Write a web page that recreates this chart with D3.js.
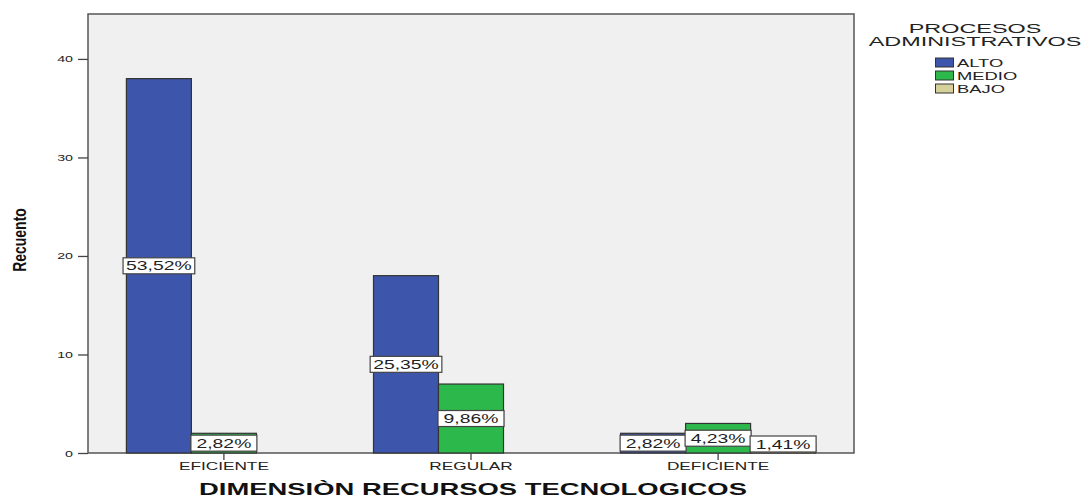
<!DOCTYPE html>
<html><head><meta charset="utf-8">
<script src="https://cdn.jsdelivr.net/npm/d3@7"></script>
<style>body{margin:0;background:#fff}svg{display:block}</style>
</head><body>
<svg id="c" width="1088" height="498"></svg>
<script>
const categories = ["EFICIENTE", "REGULAR", "DEFICIENTE"];
const seriesNames = ["ALTO", "MEDIO", "BAJO"];
const alto = [38, 18, 2];
const medio = [2, 7, 3];
const bajo = [0, 0, 1];
const pctLabels = {
  ALTO: ["53,52%", "25,35%", "2,82%"],
  MEDIO: ["2,82%", "9,86%", "4,23%"],
  BAJO: ["", "", "1,41%"]
};
const yTicks = [0, 10, 20, 30, 40];
const colors = ["#3d56ab", "#2db84b", "#d6d19a"];

const svg = d3.select("#c");
const L = 88, R = 854, T = 14, B = 453;
const font = "'Liberation Sans', Arial, sans-serif";

function stext(g, x, y, str, size, sx, anchor, weight) {
  return g.append("text")
    .attr("transform", `translate(${x},${y}) scale(${sx},1)`)
    .attr("text-anchor", anchor || "start")
    .attr("font-family", font).attr("font-size", size)
    .attr("font-weight", weight || "normal").attr("fill", "#222")
    .text(str);
}

const x = d3.scaleBand().domain(categories).range([L, R]).paddingOuter(0.05).paddingInner(0);
const groupW = 195;
const xs = d3.scaleBand().domain(seriesNames).range([0, groupW]);
const y = d3.scaleLinear().domain([0, 44.56]).range([B, T]);

svg.append("rect").attr("x", L).attr("y", T).attr("width", R - L).attr("height", B - T)
  .attr("fill", "#f0f0f0").attr("stroke", "#555").attr("stroke-width", 1.5);

const data = [];
const vals = [alto, medio, bajo];
categories.forEach((c, i) => seriesNames.forEach((s, j) => {
  data.push({ c, s, v: vals[j][i], label: pctLabels[s][i], color: colors[j] });
}));

const gx = c => x(c) + x.bandwidth() / 2 - groupW / 2;

svg.append("g").selectAll("rect").data(data.filter(d => d.v > 0)).join("rect")
  .attr("x", d => gx(d.c) + xs(d.s))
  .attr("y", d => y(d.v))
  .attr("width", xs.bandwidth())
  .attr("height", d => y(0) - y(d.v))
  .attr("fill", d => d.color)
  .attr("stroke", "#333").attr("stroke-width", 1.2);

const lg = svg.append("g");
const boxH = 16;
data.filter(d => d.v > 0).forEach(d => {
  const cx = gx(d.c) + xs(d.s) + xs.bandwidth() / 2;
  let cy = y(d.v / 2);
  cy = Math.min(cy, B - 1 - boxH / 2);
  const t = stext(lg, cx, cy + 4.5, d.label, 12.5, 1.55, "middle");
  const w = Math.max(t.node().getComputedTextLength() * 1.55 + 6, xs.bandwidth() + 1);
  lg.insert("rect", "text").attr("x", cx - w / 2).attr("y", cy - boxH / 2).attr("width", w).attr("height", boxH)
    .attr("fill", "#fff").attr("stroke", "#444").attr("stroke-width", 1.2);
});

const ya = svg.append("g").attr("transform", `translate(${L},0)`)
  .call(d3.axisLeft(y).tickValues(yTicks).tickSize(10).tickFormat(""));
ya.select(".domain").remove();
ya.selectAll("line").attr("stroke", "#444").attr("stroke-width", 1.3);
yTicks.forEach(v => stext(svg, 73, y(v) + 3.5, String(v), 9.5, 1.5, "end"));

const xa = svg.append("g").attr("transform", `translate(0,${B})`)
  .call(d3.axisBottom(x).tickSize(7).tickFormat(""));
xa.select(".domain").remove();
xa.selectAll("line").attr("stroke", "#444").attr("stroke-width", 1.3);
categories.forEach(c => stext(svg, x(c) + x.bandwidth() / 2, 470, c, 11.5, 1.5, "middle"));

stext(svg, (L + R) / 2 + 2, 495, "DIMENSIÒN RECURSOS TECNOLOGICOS", 16.5, 1.66, "middle", "bold").attr("fill", "#111");
svg.append("text").attr("transform", "translate(26,240) scale(1.3,1) rotate(-90)").attr("text-anchor", "middle")
  .attr("font-family", font).attr("font-weight", "bold").attr("font-size", 14).attr("fill", "#111")
  .text("Recuento");

const leg = svg.append("g");
stext(leg, 975, 33, "PROCESOS", 13, 1.8, "middle");
stext(leg, 975, 45.5, "ADMINISTRATIVOS", 13, 1.8, "middle");
seriesNames.forEach((s, i) => {
  const yy = 58 + i * 13;
  leg.append("rect").attr("x", 935.5).attr("y", yy).attr("width", 18).attr("height", 9)
    .attr("fill", colors[i]).attr("stroke", "#333").attr("stroke-width", 1);
  stext(leg, 957, yy + 9, s, 10.5, 1.75, "start");
});
</script>
</body></html>
